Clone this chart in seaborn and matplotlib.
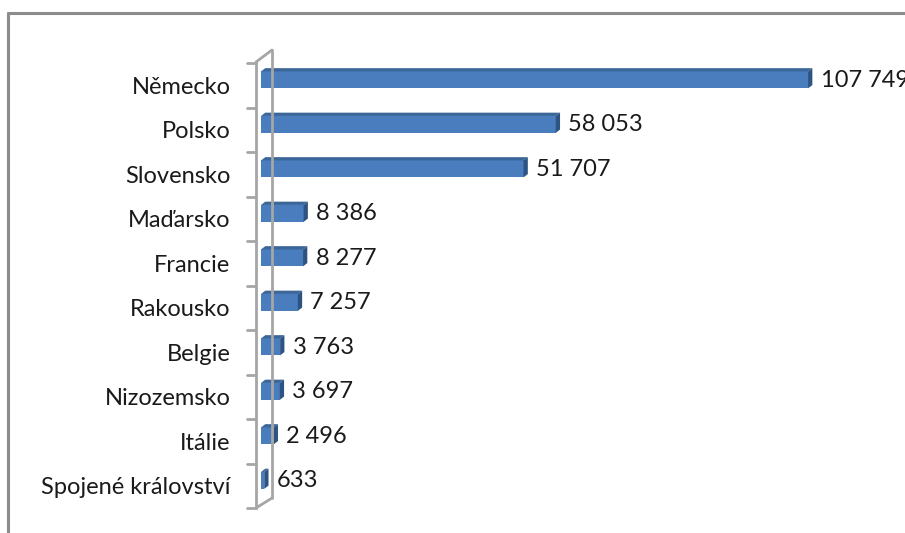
import matplotlib
matplotlib.use("Agg")
import matplotlib.pyplot as plt
from matplotlib.patches import Polygon
from matplotlib.lines import Line2D
import seaborn as sns
import pandas as pd

countries = ["Německo", "Polsko", "Slovensko", "Maďarsko", "Francie",
             "Rakousko", "Belgie", "Nizozemsko", "Itálie", "Spojené království"]
values = [107749, 58053, 51707, 8386, 8277, 7257, 3763, 3697, 2496, 633]

df = pd.DataFrame({"stat": countries, "hodnota": values})

sns.set_theme(style="white")
plt.rcParams["font.family"] = ["Lato", "DejaVu Sans"]

W, H = 905, 533
fig = plt.figure(figsize=(W / 100, H / 100), dpi=100)
fig.patch.set_facecolor("white")


def fx(px):
    return px / W


def fy(py):
    return 1 - py / H


# outer chart frame
frame_col = "#8c8c8c"
fig.add_artist(Line2D([fx(8), fx(W + 5)], [fy(13), fy(13)], color=frame_col, lw=2.2))
fig.add_artist(Line2D([fx(8), fx(8)], [fy(13), fy(H + 5)], color=frame_col, lw=2.2))

# plot area (front plane of the category axis)
ax_left, ax_top, ax_bottom, ax_right = 261, 63, 508, W
ax = fig.add_axes([fx(ax_left), fy(ax_bottom), fx(ax_right - ax_left),
                   (ax_bottom - ax_top) / H])
ax.set_facecolor("none")

front = "#4a7dbd"
top_col = "#3b6699"
side_col = "#2d5382"

sns.barplot(data=df, x="hodnota", y="stat", orient="h", width=0.38,
            color=front, saturation=1, ax=ax, zorder=3)

px_per_unit = 5.077 / 1000
ax.set_xlim(0, (ax_right - ax_left) / px_per_unit)
ax.set_ylim(len(countries) - 0.5, -0.5)

ypx = (ax_bottom - ax_top) / len(countries)   # pixels per category
xpx = px_per_unit                             # pixels per data unit
depth_x, depth_y = 4.3, 3.3                   # bar depth in pixels
shift = 0.12                                  # bars sit a little behind the front plane

ddx = depth_x / xpx
ddy = depth_y / ypx

for bar, v in zip(ax.patches, values):
    bar.set_y(bar.get_y() - shift)
    bar.set_edgecolor("none")
    y0 = bar.get_y()
    h = bar.get_height()
    w = bar.get_width()
    # top face
    ax.add_patch(Polygon([(0, y0), (w, y0), (w + ddx, y0 - ddy), (ddx, y0 - ddy)],
                         closed=True, facecolor=top_col, edgecolor="none", zorder=3))
    # end cap
    ax.add_patch(Polygon([(w, y0), (w, y0 + h), (w + ddx, y0 + h - ddy), (w + ddx, y0 - ddy)],
                         closed=True, facecolor=side_col, edgecolor="none", zorder=3))
    ax.annotate(f"{v:,}".replace(",", " "), xy=(w, y0 + h / 2),
                xytext=(12.5, -0.5), textcoords="offset pixels",
                ha="left", va="center", fontsize=17, color="#1a1a1a",
                annotation_clip=False, zorder=4)

# axis wall
wall = "#a6a6a6"
fig.add_artist(Line2D([fx(256), fx(256)], [fy(62), fy(508)], color=wall, lw=2))
fig.add_artist(Line2D([fx(272), fx(272)], [fy(50), fy(498)], color=wall, lw=2))
fig.add_artist(Line2D([fx(256), fx(272)], [fy(62), fy(50)], color=wall, lw=2))
fig.add_artist(Line2D([fx(256), fx(272)], [fy(508), fy(498)], color=wall, lw=2))
for k in range(len(countries) + 1):
    yy = ax_top + k * ypx
    fig.add_artist(Line2D([fx(247), fx(256)], [fy(yy), fy(yy)], color=wall, lw=2))

for s in ax.spines.values():
    s.set_visible(False)
ax.set_xticks([])
ax.set_xlabel("")
ax.set_ylabel("")
ax.tick_params(axis="y", length=0, pad=22, labelsize=17, labelcolor="#1a1a1a")

fig.savefig("out.png", dpi=100)
